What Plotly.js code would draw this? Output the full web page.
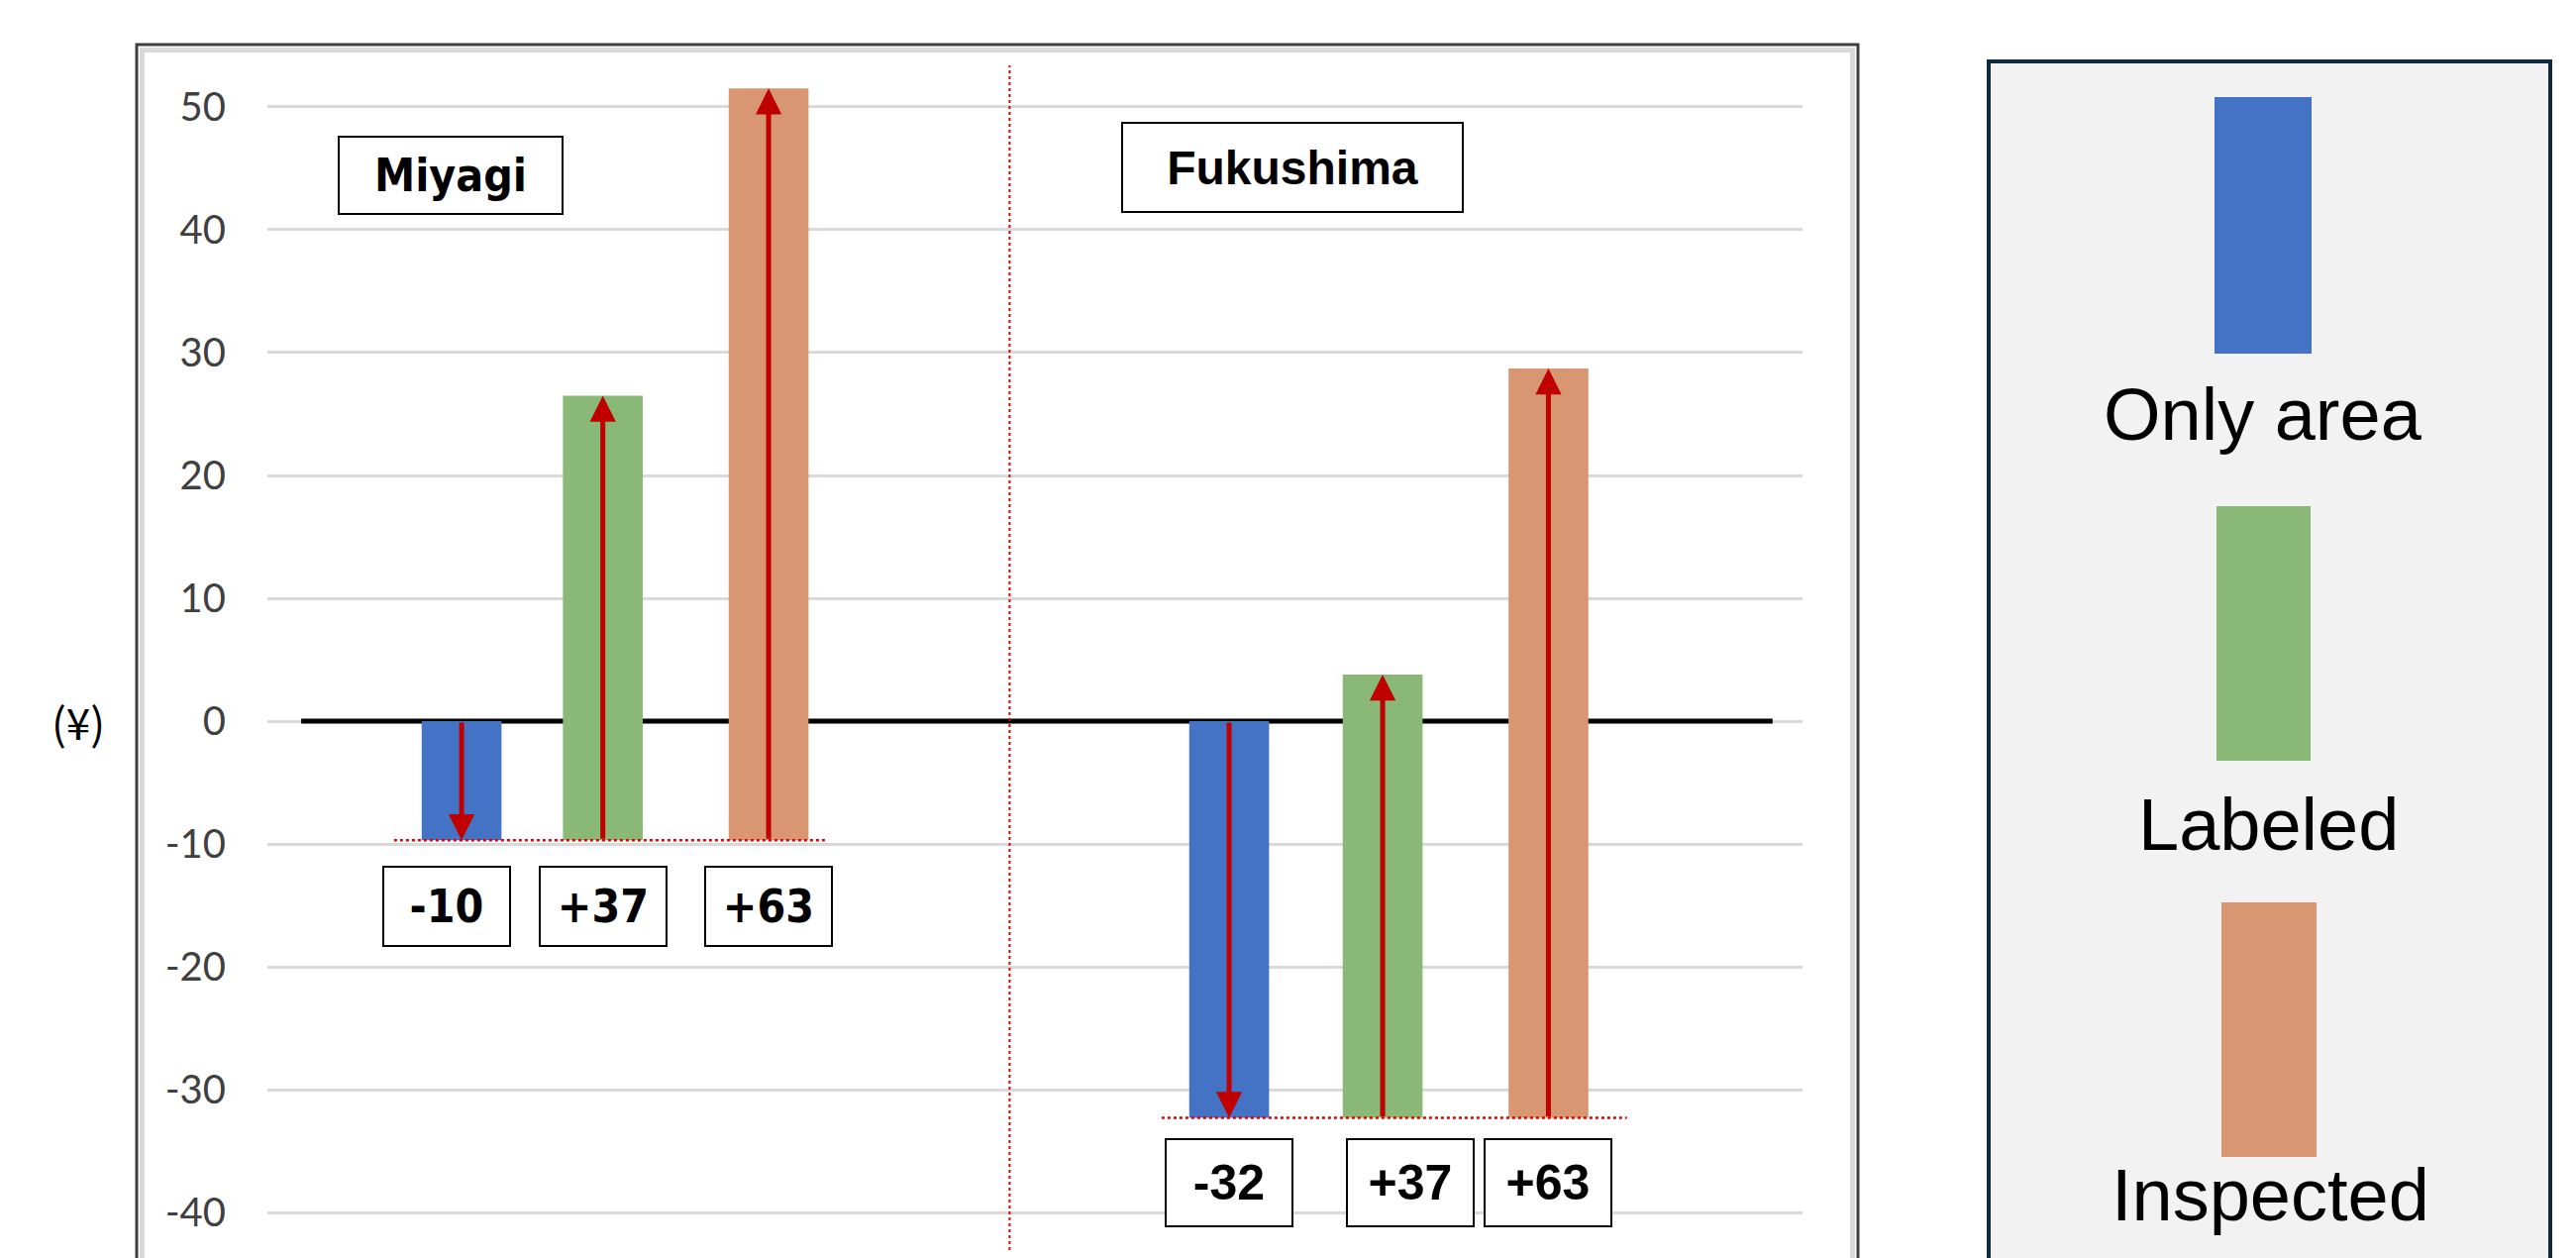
<!DOCTYPE html>
<html><head><meta charset="utf-8">
<script src="https://cdn.plot.ly/plotly-3.0.1.min.js"></script>
<style>html,body{margin:0;padding:0;background:#fff;} #chart{width:2601px;height:1270px;}</style>
</head><body><div id="chart"></div>
<script>
// ---------- data ----------
const regions = ['Miyagi', 'Fukushima'];
const seriesNames = ['Only area', 'Labeled', 'Inspected'];
const seriesColors = ['#4472C4', '#89B877', '#D89673'];
const onlyAreaTop = [-9.7, -32.3];   // Only area bar: from 0 down to this value
const floorLevel = [-9.7, -32.3];    // level the Labeled / Inspected bars start from
const labeledTop = [26.5, 3.8];
const inspectedTop = [51.5, 28.7];
const changeLabels = [['-10', '+37', '+63'], ['-32', '+37', '+63']];
const tickVals = [-40, -30, -20, -10, 0, 10, 20, 30, 40, 50];
const tickLabels = ['-40', '-30', '-20', '-10', '0', '10', '20', '30', '40', '50'];
const yUnit = '(¥)';

// ---------- layout geometry ----------
const W = 2601, H = 1270, ML = 270, MR = 781, MT = 70, MB = 0;
const PW = W - ML - MR, PH = H - MT - MB;
const PX = px => (px - ML) / PW;
const PY = py => (H - MB - py) / PH;
const slots = [[0, 0.92, 2], [5, 6, 7.08]];
const labelShift = [[-15, 0, 0], [0, 28, 0]];
const barW = 0.52;
const tops = [onlyAreaTop, labeledTop, inspectedTop];
const narrow = '"Liberation Sans Narrow", "DejaVu Sans Condensed", "Liberation Sans", Arial, sans-serif';
const arial = '"Liberation Sans", Arial, sans-serif';
const tickFamily = 'Lato, "Open Sans", "DejaVu Sans Condensed", sans-serif';

const traces = seriesNames.map((name, s) => {
  const base = regions.map((r, i) => s === 0 ? 0 : floorLevel[i]);
  return {
    type: 'bar', name: name,
    x: regions.map((r, i) => slots[i][s]),
    y: regions.map((r, i) => tops[s][i] - base[i]),
    base: base, width: barW,
    marker: {color: seriesColors[s], line: {width: 0}},
    hoverinfo: 'skip', showlegend: false
  };
});

const shapes = [];
const annotations = [];

// zero line
shapes.push({type: 'line', xref: 'x', yref: 'y', x0: -1.045, x1: 8.54, y0: 0, y1: 0,
  line: {color: '#000', width: 5}, layer: 'between'});

// dotted floor lines
regions.forEach((r, i) => {
  shapes.push({type: 'line', xref: 'x', yref: 'y',
    x0: slots[i][0] - 0.44, x1: slots[i][2] + 0.37 + (i ? 0.14 : 0), y0: floorLevel[i], y1: floorLevel[i],
    line: {color: '#e00000', width: 2.5, dash: 'dot'}, layer: 'above'});
});
// vertical separator
shapes.push({type: 'line', xref: 'x', yref: 'paper', x0: 3.57, x1: 3.57, y0: PY(1262), y1: PY(66),
  line: {color: '#e00000', width: 2, dash: 'dot'}, layer: 'above'});

// chart frame
shapes.push({type: 'rect', xref: 'paper', yref: 'paper', x0: PX(138), x1: PX(1876), y0: PY(1300), y1: PY(45),
  line: {color: '#3f3f3f', width: 3}, fillcolor: 'rgba(0,0,0,0)', layer: 'above'});
shapes.push({type: 'rect', xref: 'paper', yref: 'paper', x0: PX(143.5), x1: PX(1870.5), y0: PY(1300), y1: PY(50.5),
  line: {color: '#d9d9d9', width: 5}, fillcolor: 'rgba(0,0,0,0)', layer: 'above'});

// legend panel
shapes.push({type: 'rect', xref: 'paper', yref: 'paper', x0: PX(2008), x1: PX(2575), y0: PY(1300), y1: PY(62),
  line: {color: '#0f2a3d', width: 4}, fillcolor: '#f2f2f2', layer: 'above'});
const swatchPx = [[2236, 2334, 98, 357], [2238, 2333, 511, 768], [2243, 2339, 911, 1168]];
const legendTextPx = [[2285, 418], [2290, 833], [2292, 1206]];
seriesNames.forEach((name, s) => {
  const b = swatchPx[s];
  shapes.push({type: 'rect', xref: 'paper', yref: 'paper', x0: PX(b[0]), x1: PX(b[1]), y0: PY(b[3]), y1: PY(b[2]),
    line: {width: 0}, fillcolor: seriesColors[s], layer: 'above'});
  annotations.push({xref: 'paper', yref: 'paper', x: PX(legendTextPx[s][0]), y: PY(legendTextPx[s][1]),
    xanchor: 'center', yanchor: 'middle', text: name, showarrow: false,
    font: {family: arial, size: 74, color: '#000'}});
});

// arrows
regions.forEach((r, i) => {
  seriesNames.forEach((name, s) => {
    const tail = s === 0 ? 0 : floorLevel[i];
    annotations.push({xref: 'x', yref: 'y', axref: 'x', ayref: 'y',
      x: slots[i][s], y: tops[s][i], ax: slots[i][s], ay: tail, text: '',
      showarrow: true, arrowhead: 2, arrowsize: 1.05, arrowwidth: 5, arrowcolor: '#c00000', standoff: 0});
  });
});

// change labels
regions.forEach((r, i) => {
  changeLabels[i].forEach((lab, s) => {
    annotations.push({xref: 'x', yref: 'y', x: slots[i][s], y: floorLevel[i], yanchor: 'top',
      yshift: i ? -20 : -26, xshift: labelShift[i][s],
      text: '<b>' + lab + '</b>', showarrow: false, width: 104, height: i ? 64 : 56, borderpad: 11,
      bordercolor: '#000', borderwidth: 2, bgcolor: '#fff',
      font: {family: i ? arial : narrow, size: i ? 50 : 46, color: '#000'}});
  });
});

// region labels
annotations.push({xref: 'x', yref: 'y', x: -0.07, y: 44.4, text: '<b>' + regions[0] + '</b>', showarrow: false,
  width: 200, height: 52, borderpad: 12, bordercolor: '#000', borderwidth: 2, bgcolor: '#fff',
  font: {family: narrow, size: 46, color: '#000'}});
annotations.push({xref: 'x', yref: 'y', x: 5.41, y: 45.1, text: '<b>' + regions[1] + '</b>', showarrow: false,
  width: 316, height: 62, borderpad: 13, bordercolor: '#000', borderwidth: 2, bgcolor: '#fff',
  font: {family: arial, size: 48, color: '#000'}});

// y unit
annotations.push({xref: 'paper', yref: 'y', x: PX(79), y: 0, xanchor: 'center', yanchor: 'middle',
  text: yUnit, showarrow: false, font: {family: '"Noto Sans CJK JP", "DejaVu Sans", sans-serif', size: 44, color: '#000'}});

const layout = {
  width: W, height: H, autosize: false,
  margin: {l: ML, r: MR, t: MT, b: MB, pad: 0},
  paper_bgcolor: '#fff', plot_bgcolor: '#fff',
  barmode: 'overlay', showlegend: false,
  xaxis: {range: [-1.265, 8.735], showgrid: false, zeroline: false, showticklabels: false, showline: false, fixedrange: true},
  yaxis: {range: [-43.7, 53.06], tickvals: tickVals, ticktext: tickLabels, showgrid: true, gridcolor: '#d9d9d9', gridwidth: 3,
    zeroline: false, showline: false, ticks: 'outside', ticklen: 33, tickcolor: 'rgba(0,0,0,0)',
    tickfont: {family: tickFamily, size: 40, color: '#404040'}, fixedrange: true},
  shapes: shapes, annotations: annotations
};

Plotly.newPlot('chart', traces, layout, {displayModeBar: false, staticPlot: true});
</script>
</body></html>
